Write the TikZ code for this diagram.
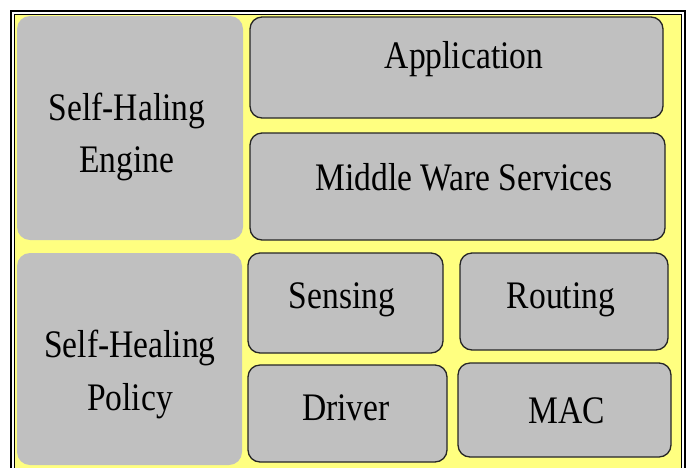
\documentclass[tikz,border=0pt]{standalone}
\usepackage{fontspec}
\setmainfont{Liberation Serif}[FakeStretch=0.86]
\begin{document}
\begin{tikzpicture}[x=1pt,y=-1pt,
  panel/.style={fill=panelfill, draw=none, rounded corners=13pt},
  layer/.style={fill=panelfill, draw=black!85, line width=1.3pt, rounded corners=12pt},
  lbl/.style={anchor=base, inner sep=0pt, font=\fontsize{39}{52}\selectfont, text=black},
  frameline/.style={draw=black, line width=1.1pt}
]
\definecolor{panelfill}{RGB}{192,192,192}
\definecolor{backfill}{RGB}{255,255,128}
\useasboundingbox (0,0) rectangle (690,467);
% background and double frame (open at the bottom)
\fill[white] (0,0) rectangle (690,467);
\fill[backfill] (14,14) rectangle (682,470);
\draw[frameline] (11,470) -- (11,11) -- (685,11) -- (685,470);
\draw[frameline] (14.5,470) -- (14.5,14.5) -- (681.5,14.5) -- (681.5,470);
% left column panels
\path[panel] (17,16) rectangle (243,240);
\path[panel] (17,253) rectangle (242,465);
% stack of layers
\path[layer] (250,17) rectangle (663,118);
\path[layer] (250,133) rectangle (665,240);
\path[layer] (248,253) rectangle (443,353);
\path[layer] (460,253) rectangle (668,350);
\path[layer] (248,365) rectangle (447,462);
\path[layer] (458,363) rectangle (671,457);
% labels
\node[lbl] (engine1) at (127,120) {Self-Haling};
\node[lbl] (engine2) at (127,172) {Engine};
\node[lbl] (policy1) at (130,357) {Self-Healing};
\node[lbl] (policy2) at (130,410) {Policy};
\node[lbl] (app) at (464,68) {Application};
\node[lbl] (mid) at (464,190) {Middle Ware Services};
\node[lbl] (sens) at (342,308) {Sensing};
\node[lbl] (rout) at (561,308) {Routing};
\node[lbl] (drv) at (346,420) {Driver};
\node[lbl] (mac) at (567,423) {MAC};
\end{tikzpicture}
\end{document}
